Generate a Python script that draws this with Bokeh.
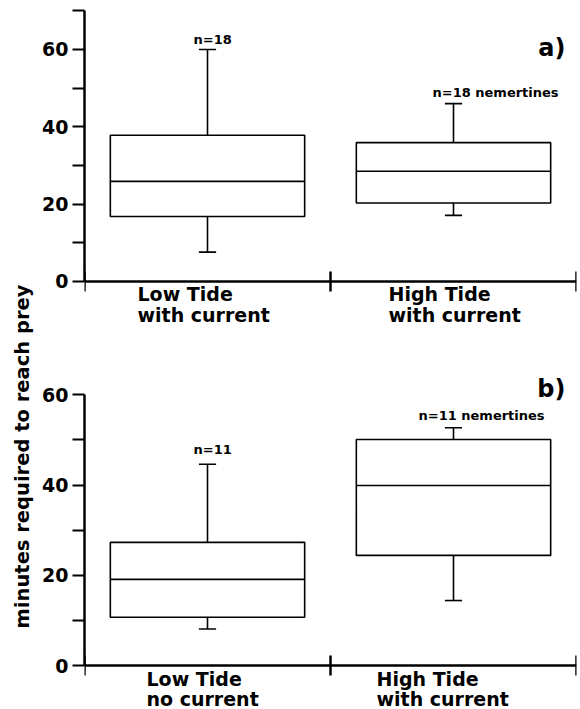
from bokeh.plotting import figure
from bokeh.models import Range1d, FixedTicker, ColumnDataSource, LabelSet, Label, LinearAxis
from bokeh.layouts import row, column
from bokeh.embed import file_html
from bokeh.resources import INLINE
from bokeh.core.properties import value
import math

# ---------------- data ----------------
a_categories = ["Low Tide\nwith current", "High Tide\nwith current"]
a_min = [7.6, 17.1]
a_q1 = [16.8, 20.3]
a_median = [25.9, 28.5]
a_q3 = [37.8, 35.9]
a_max = [60.0, 46.0]
a_counts = ["n=18", "n=18 nemertines"]

b_categories = ["Low Tide\nno current", "High Tide\nwith current"]
b_min = [8.1, 14.4]
b_q1 = [10.7, 24.4]
b_median = [19.1, 39.9]
b_q3 = [27.3, 50.1]
b_max = [44.6, 52.7]
b_counts = ["n=11", "n=11 nemertines"]

a_yticks = [0, 20, 40, 60]
a_yminor = [10, 30, 50, 70]
a_ymax = 70
b_yticks = [0, 20, 40, 60]
b_yminor = [10, 30, 50]
b_ymax = 60

y_title = "minutes required to reach prey"

FONT = "DejaVu Sans"
BOX_W = 0.79
CAP_W = 0.07
LAB_W = 36


def make_panel(cats, mn, q1, med, q3, mx, counts, ymax, ticks, minor, tag, tag_y,
               height, y_view, cat_xoff, cat_yoff, n_xoff, n_yoff):
    p = figure(width=580 - LAB_W, height=height, x_range=Range1d(0, 2), y_range=Range1d(*y_view),
               output_backend="svg", toolbar_location=None, x_axis_location=None,
               min_border_left=84 - LAB_W, min_border_right=4,
               min_border_top=0, min_border_bottom=0)
    p.outline_line_color = None
    p.xgrid.visible = False
    p.ygrid.visible = False
    p.background_fill_color = "white"
    p.border_fill_color = "white"

    n = len(cats)
    xs = [i + 0.5 for i in range(n)]
    src = ColumnDataSource(dict(
        x=xs, left=[x - BOX_W / 2 for x in xs], right=[x + BOX_W / 2 for x in xs],
        cl=[x - CAP_W / 2 for x in xs], cr=[x + CAP_W / 2 for x in xs],
        mn=mn, q1=q1, med=med, q3=q3, mx=mx))

    lw = 1.6
    p.segment(x0="x", y0="q3", x1="x", y1="mx", source=src, line_color="black", line_width=lw)
    p.segment(x0="x", y0="q1", x1="x", y1="mn", source=src, line_color="black", line_width=lw)
    p.segment(x0="cl", y0="mx", x1="cr", y1="mx", source=src, line_color="black", line_width=lw)
    p.segment(x0="cl", y0="mn", x1="cr", y1="mn", source=src, line_color="black", line_width=lw)
    p.quad(left="left", right="right", bottom="q1", top="q3", source=src,
           fill_color="white", line_color="black", line_width=lw)
    p.segment(x0="left", y0="med", x1="right", y1="med", source=src,
              line_color="black", line_width=lw)

    # y axis
    ya = p.yaxis[0]
    ya.bounds = (0, ymax)
    ya.ticker = FixedTicker(ticks=ticks, minor_ticks=minor)
    ya.axis_line_width = 2.5
    ya.major_tick_in = 0
    ya.major_tick_out = 12
    ya.minor_tick_in = 0
    ya.minor_tick_out = 12
    ya.major_tick_line_width = 2.2
    ya.minor_tick_line_width = 2.2
    ya.major_label_standoff = 4
    ya.major_label_text_font = FONT
    ya.major_label_text_font_style = "bold"
    ya.major_label_text_font_size = "19px"
    ya.major_label_text_color = "black"

    # x axis at y = 0, boundary ticks only
    xa = LinearAxis(fixed_location=0)
    xa.ticker = FixedTicker(ticks=[0, 1, 2])
    xa.axis_line_width = 2.5
    xa.major_tick_in = 10
    xa.major_tick_out = 10
    xa.major_tick_line_width = 2.5
    xa.minor_tick_line_color = None
    xa.major_label_overrides = {0: "", 1: "", 2: ""}
    xa.major_label_text_font_size = "8px"
    xa.major_label_standoff = 0
    p.add_layout(xa, "below")

    # category labels (two lines, left aligned)
    l1 = [c.split("\n")[0] for c in cats]
    l2 = [c.split("\n")[1] for c in cats]
    lsrc = ColumnDataSource(dict(x=xs, y=[0] * n, t1=l1, t2=l2, xo=cat_xoff))
    for col, yo in (("t1", cat_yoff[0]), ("t2", cat_yoff[1])):
        p.add_layout(LabelSet(x="x", y="y", text=col, source=lsrc, x_offset="xo", y_offset=yo,
                              text_align="left", text_baseline="alphabetic",
                              text_font=value(FONT), text_font_style="bold",
                              text_font_size="19px", text_color="black"))

    # n labels
    nsrc = ColumnDataSource(dict(x=xs, y=mx, t=counts, xo=n_xoff, yo=n_yoff))
    p.add_layout(LabelSet(x="x", y="y", text="t", source=nsrc, x_offset="xo", y_offset="yo",
                          text_align="left", text_baseline="alphabetic",
                          text_font=value(FONT), text_font_style="bold",
                          text_font_size="13px", text_color="black"))

    # panel tag
    p.add_layout(Label(x=2, y=tag_y, text=tag, x_offset=-11, y_offset=4, text_align="right",
                       text_baseline="alphabetic", text_font=FONT, text_font_style="bold",
                       text_font_size="24px", text_color="black"))
    return p


pa = make_panel(a_categories, a_min, a_q1, a_median, a_q3, a_max, a_counts, a_ymax,
                a_yticks, a_yminor, "a)", 59.3, 338, (-14.74, 72.66),
                [-70, -65], [-20, -41], [-14, -21], [5.7, 6.6])
pb = make_panel(b_categories, b_min, b_q1, b_median, b_q3, b_max, b_counts, b_ymax,
                b_yticks, b_yminor, "b)", 60.5, 371, (-9.75, 72.48),
                [-61, -77], [-20, -40], [-14, -35], [10.4, 7.3])

# shared y-axis title
lab = figure(width=LAB_W, height=709, x_range=Range1d(0, LAB_W), y_range=Range1d(0, 709),
             output_backend="svg", toolbar_location=None, min_border=0)
lab.axis.visible = False
lab.xgrid.visible = False
lab.ygrid.visible = False
lab.outline_line_color = None
lab.add_layout(Label(x=22, y=253, text=y_title, angle=math.pi / 2, text_align="center",
                     text_baseline="middle", text_font=FONT, text_font_style="bold",
                     text_font_size="19.5px", text_color="black"))

layout = row(lab, column(pa, pb))
open("out.html", "w").write(file_html(layout, INLINE))
